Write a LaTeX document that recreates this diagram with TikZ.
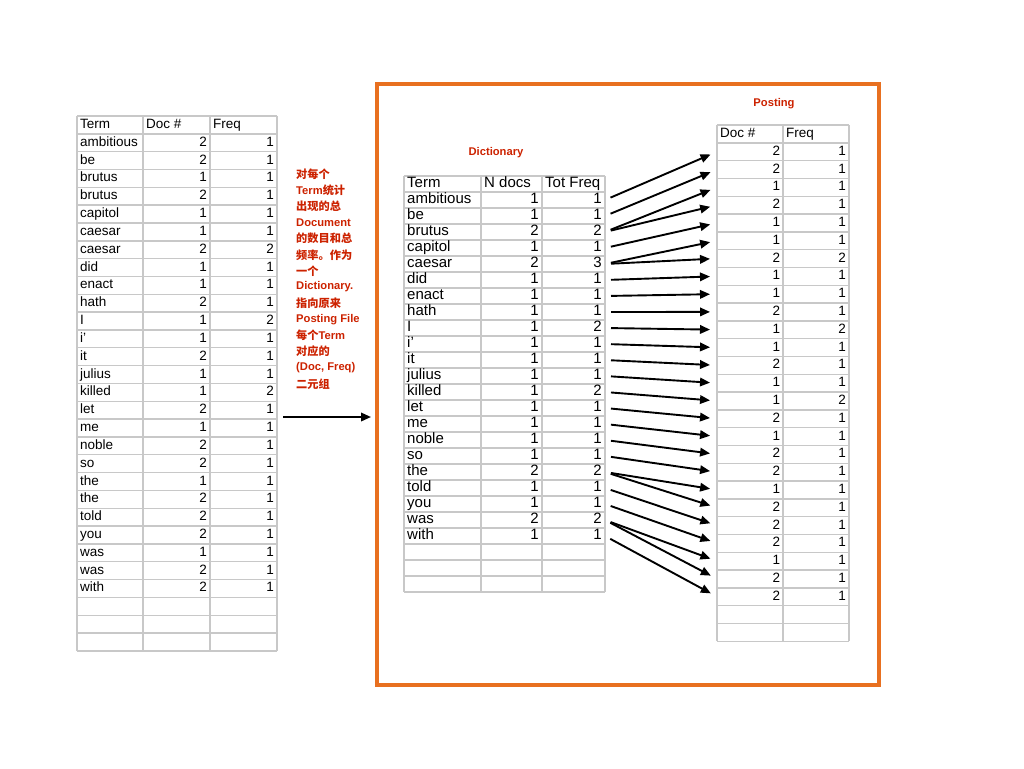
\documentclass[tikz,border=0pt]{standalone}
\usepackage{fontspec}
\setmainfont{Liberation Sans}
\newfontfamily\cjk{Noto Sans CJK SC}
\usetikzlibrary{arrows.meta}

\definecolor{notered}{RGB}{204,34,0}
\definecolor{frameorange}{RGB}{232,112,32}
\definecolor{gridgray}{RGB}{200,200,200}

\tikzset{
	cellline/.style={draw=gridgray, line width=1.4pt},
	lcell/.style={anchor=west, inner xsep=3pt, inner ysep=0pt, text height=9.6pt, text depth=2.6pt},
	rcell/.style={anchor=east, inner xsep=3pt, inner ysep=0pt, text height=9.6pt, text depth=2.6pt},
	small/.style={font=\fontsize{13.5}{16}\selectfont},
	big/.style={font=\fontsize{15}{16}\selectfont},
	note/.style={anchor=west, inner sep=0pt, text=notered, font=\bfseries\fontsize{11.2}{14}\selectfont},
	link/.style={-{Triangle[length=10pt,width=8.5pt]}, line width=1.9pt},
	frame/.style={draw=frameorange, line width=3.6pt}
}

\begin{document}
\begin{tikzpicture}[x=1pt, y=-1pt]
	\useasboundingbox (0,0) rectangle (1024,768);
	
	% left table: Term, Doc #, Freq
	\foreach \r in {0,...,30}
		\draw[cellline] (77,{116+17.83*\r}) -- (277,{116+17.83*\r});
	\foreach \c in {77,143,210,277}
		\draw[cellline] (\c,116) -- (\c,651);
	\begin{scope}[small]
		\node[lcell] (lh1) at (77,125) {Term};
		\node[lcell] (lh2) at (143,125) {Doc \#};
		\node[lcell] (lh3) at (210,125) {Freq};
		\foreach \t/\a/\b [count=\i] in {ambitious/2/1, be/2/1, brutus/1/1, brutus/2/1,
			capitol/1/1, caesar/1/1, caesar/2/2, did/1/1, enact/1/1, hath/2/1, I/1/2,
			i'/1/1, it/2/1, julius/1/1, killed/1/2, let/2/1, me/1/1, noble/2/1, so/2/1,
			the/1/1, the/2/1, told/2/1, you/2/1, was/1/1, was/2/1, with/2/1} {
			\node[lcell] (lt\i) at (77,{124.9+17.83*\i}) {\t};
			\node[rcell] (la\i) at (210,{124.9+17.83*\i}) {\a};
			\node[rcell] (lb\i) at (277,{124.9+17.83*\i}) {\b};
		}
	\end{scope}
	
	% note in the middle
	\foreach \txt [count=\i] in {{\cjk 对每个}, Term{\cjk 统计}, {\cjk 出现的总}, Document,
		{\cjk 的数目和总}, {\cjk 频率。作为}, {\cjk 一个}, Dictionary., {\cjk 指向原来},
		Posting File, {\cjk 每个}Term, {\cjk 对应的}, {(Doc, Freq)}, {\cjk 二元组}}
		\node[note] (n\i) at (296,{174+16.15*(\i-1)}) {\txt};
	
	\coordinate (src) at (283,417);
	\coordinate (dst) at (371,417);
	\draw[link] (src) -- (dst);
	
	% orange frame
	\draw[frame] (377,84) rectangle (879,685);
	
	% dictionary
	\node[note, anchor=center] (dictlabel) at (496,153) {Dictionary};
	\foreach \r in {0,...,26}
		\draw[cellline] (404,{176+16*\r}) -- (605,{176+16*\r});
	\foreach \c in {404,481,542,605}
		\draw[cellline] (\c,176) -- (\c,592);
	\begin{scope}[big]
		\node[lcell] (dh1) at (404,184) {Term};
		\node[lcell] (dh2) at (481,184) {N docs};
		\node[lcell] (dh3) at (542,184) {Tot Freq};
		\foreach \t/\a/\b [count=\i] in {ambitious/1/1, be/1/1, brutus/2/2, capitol/1/1,
			caesar/2/3, did/1/1, enact/1/1, hath/1/1, I/1/2, i'/1/1, it/1/1, julius/1/1,
			killed/1/2, let/1/1, me/1/1, noble/1/1, so/1/1, the/2/2, told/1/1, you/1/1,
			was/2/2, with/1/1} {
			\node[lcell] (dt\i) at (404,{184+16*\i}) {\t};
			\node[rcell] (dn\i) at (542,{184+16*\i}) {\a};
			\node[rcell] (dq\i) at (605,{184+16*\i}) {\b};
		}
	\end{scope}
	
	% postings
	\node[note, anchor=center] (postlabel) at (774,104) {Posting};
	\foreach \r in {0,...,29}
		\draw[cellline] (717,{125+17.8*\r}) -- (849,{125+17.8*\r});
	\foreach \c in {717,783,849}
		\draw[cellline] (\c,125) -- (\c,641.2);
	\begin{scope}[small]
		\node[lcell] (ph1) at (717,134) {Doc \#};
		\node[lcell] (ph2) at (783,134) {Freq};
		\foreach \a/\b [count=\i] in {2/1, 2/1, 1/1, 2/1, 1/1, 1/1, 2/2, 1/1, 1/1, 2/1,
			1/2, 1/1, 2/1, 1/1, 1/2, 2/1, 1/1, 2/1, 2/1, 1/1, 2/1, 2/1, 2/1, 1/1, 2/1, 2/1} {
			\node[lcell, text width=60pt, align=right] (pd\i) at (717,{133.9+17.8*\i}) {\a};
			\node[rcell] (pf\i) at (849,{133.9+17.8*\i}) {\b};
		}
	\end{scope}
	
	% dictionary -> postings
	\foreach \d/\p in {1/1, 2/2, 3/3, 3/4, 4/5, 5/6, 5/7, 6/8, 7/9, 8/10, 9/11, 10/12,
		11/13, 12/14, 13/15, 14/16, 15/17, 16/18, 17/19, 18/20, 18/21, 19/22, 20/23,
		21/24, 21/25, 22/26}
		\draw[link, shorten <=6pt, shorten >=7pt] (dq\d.east) -- (pd\p.west);
\end{tikzpicture}
\end{document}
